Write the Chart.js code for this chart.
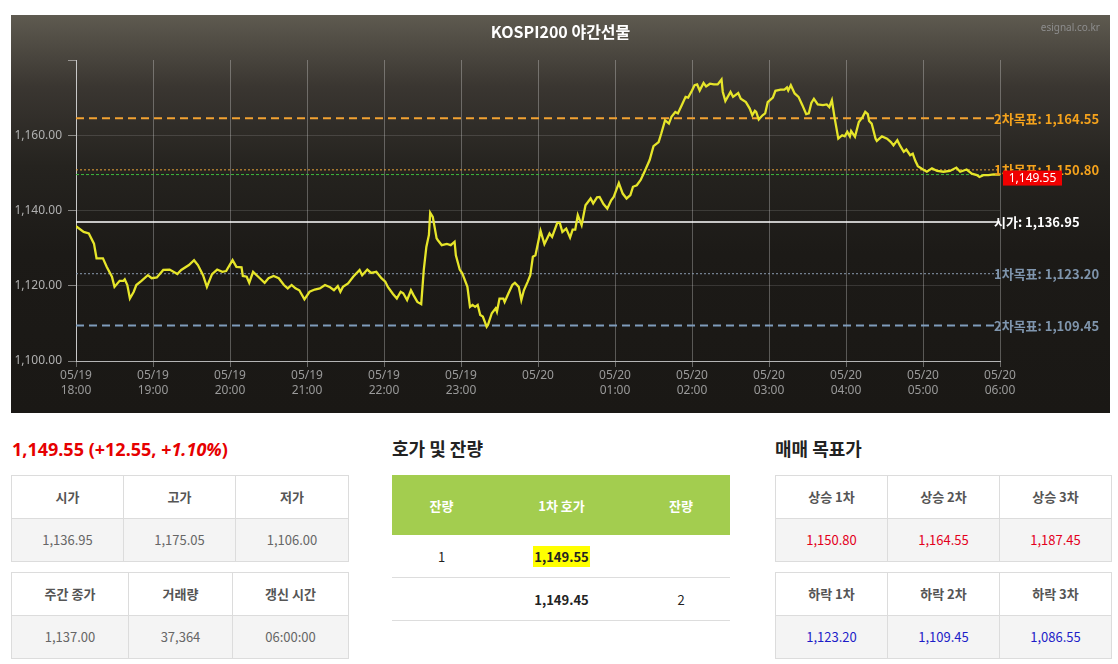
<!DOCTYPE html>
<html>
<head>
<meta charset="utf-8">
<script src="https://cdn.jsdelivr.net/npm/chart.js@4.4.1/dist/chart.umd.min.js"></script>
<style>
html,body{margin:0;padding:0;width:1118px;height:664px;overflow:hidden;background:#fff;font-family:'Noto Sans CJK KR','Noto Sans',sans-serif;}
#box{position:absolute;left:11px;top:15px;width:1099px;height:398px;background:linear-gradient(to bottom,#5e5a50 0%,#3a3631 18%,#25231f 38%,#1c1a17 60%,#1a1815 100%);}
#wrap{position:absolute;left:0;top:0;width:1099px;height:398px;}
#ttl{position:absolute;left:0;top:5px;width:1099px;text-align:center;font-size:16px;font-weight:bold;color:#fff;line-height:22px;}
#src{position:absolute;right:10px;top:5px;font-size:10px;color:#8d8d8d;font-family:'Noto Sans',sans-serif;}
.head{position:absolute;font-size:18px;font-weight:bold;color:#222;line-height:26px;}
#price{position:absolute;left:12px;top:436px;font-size:18px;font-weight:bold;color:#e60000;line-height:26px;font-family:'Noto Sans',sans-serif;}
table{position:absolute;border-collapse:collapse;table-layout:fixed;}
.t td{border:1px solid #dcdcdc;text-align:center;padding:0 0 2px 0;font-size:13px;height:40px;}
.t tr.h td{background:#fff;color:#555;font-weight:bold;}
.t tr.v td{background:#f4f4f4;color:#666;}
.t tr.v.up td{color:#e3001b;}
.t tr.v.dn td{color:#1d1dc8;}
.q td{text-align:center;padding:0;font-size:13px;color:#222;border-bottom:1px solid #ddd;height:42px;}
.q tr.h td{background:#a3cd4f;color:#fff;font-weight:bold;height:60px;border:none;}
.q b{font-weight:bold;}
.hl{background:#ffff00;padding:1px 1px;}
</style>
</head>
<body>
<div id="box">
  <div id="wrap"><canvas id="c"></canvas></div>
  <div id="ttl"></div>
  <div id="src">esignal.co.kr</div>
</div>

<div id="price">1,149.55 (+12.55, <i>+1.10%</i>)</div>
<table class="t" style="left:11px;top:475px;width:337px;">
  <colgroup><col style="width:112px"><col style="width:112px"><col style="width:113px"></colgroup>
  <tr class="h"><td>시가</td><td>고가</td><td>저가</td></tr>
  <tr class="v"><td>1,136.95</td><td>1,175.05</td><td>1,106.00</td></tr>
</table>
<table class="t" style="left:11px;top:572px;width:337px;">
  <colgroup><col style="width:117px"><col style="width:104px"><col style="width:116px"></colgroup>
  <tr class="h"><td>주간 종가</td><td>거래량</td><td>갱신 시간</td></tr>
  <tr class="v"><td>1,137.00</td><td>37,364</td><td>06:00:00</td></tr>
</table>

<div class="head" style="left:392px;top:435px;">호가 및 잔량</div>
<table class="q" style="left:392px;top:475px;width:338px;">
  <colgroup><col style="width:99px"><col style="width:141px"><col style="width:98px"></colgroup>
  <tr class="h"><td>잔량</td><td>1차 호가</td><td>잔량</td></tr>
  <tr><td>1</td><td><b class="hl">1,149.55</b></td><td></td></tr>
  <tr><td></td><td><b>1,149.45</b></td><td>2</td></tr>
</table>

<div class="head" style="left:775px;top:435px;">매매 목표가</div>
<table class="t" style="left:775px;top:475px;width:336px;">
  <colgroup><col style="width:112px"><col style="width:112px"><col style="width:112px"></colgroup>
  <tr class="h"><td>상승 1차</td><td>상승 2차</td><td>상승 3차</td></tr>
  <tr class="v up"><td>1,150.80</td><td>1,164.55</td><td>1,187.45</td></tr>
</table>
<table class="t" style="left:775px;top:572px;width:336px;">
  <colgroup><col style="width:112px"><col style="width:112px"><col style="width:112px"></colgroup>
  <tr class="h"><td>하락 1차</td><td>하락 2차</td><td>하락 3차</td></tr>
  <tr class="v dn"><td>1,123.20</td><td>1,109.45</td><td>1,086.55</td></tr>
</table>

<script>
// ---- data ----
const chartTitle = 'KOSPI200 야간선물';
// minutes after 05/19 18:00
const priceMinutes = [
  0,6,10,14,16,21,24,28,30,34,37,38,40,42,45,47,51,56,59,63,68,73,79,82,88,92,95,99,102,106,110,114,117,
  122,125,129,130,133,135,138,142,147,150,154,158,162,165,168,171,174,178,182,186,190,194,198,201,204,206,208,212,216,221,223,227,230,234,238,241,
  243,247,250,253,255,258,261,263,266,269,271,273,275,276,278,281,282,285,289,292,295,296,299,301,305,307,309,311,313,315,317,320,321,324,327,328,330,333,334,337,340,342,345,347,349,352,354,356,358,
  362,365,369,371,375,377,379,382,385,387,389,391,394,397,401,403,406,408,411,414,417,419,423,426,429,432,434,437,440,443,447,450,454,456,459,462,464,467,469,472,475,477,480,482,
  484,486,489,491,494,497,500,503,504,506,510,512,516,518,522,525,527,529,530,532,535,537,539,543,545,549,552,554,555,557,560,563,566,569,571,573,575,578,582,585,587,589,591,594,597,599,601,603,
  604,607,610,613,615,617,618,620,623,624,628,632,635,637,640,642,645,647,650,652,654,656,660,663,667,671,676,681,686,689,694,698,702,704,707,711,715,720
];
const priceValues = [
  1135.8,1134.3,1133.9,1131.2,1127.3,1127.3,1125.0,1122.4,1119.7,1121.3,1121.3,1121.7,1120.2,1116.6,1118.4,1120.2,1121.3,1122.8,1122.0,1122.2,1124.2,1124.3,1123.1,1124.2,1125.5,1126.8,1125.5,1122.8,1119.7,1123.1,1124.3,1123.7,1123.9,
  1126.8,1125.0,1124.9,1122.6,1122.4,1120.8,1123.7,1122.4,1120.8,1122.0,1122.6,1122.0,1120.2,1119.3,1120.2,1119.3,1118.8,1116.4,1118.4,1119.0,1119.3,1120.2,1119.6,1118.8,1119.9,1118.4,1119.7,1120.6,1122.4,1124.2,1122.8,1124.3,1123.4,1123.7,1122.0,1121.1,
  1119.7,1117.8,1116.6,1118.4,1118.0,1116.2,1118.8,1117.5,1115.7,1115.1,1124.2,1130.3,1133.5,1139.4,1138.3,1132.6,1132.1,1130.8,1131.1,1130.8,1131.7,1128.1,1124.3,1123.3,1119.7,1114.4,1114.9,1114.4,1114.9,1112.2,1111.8,1109.1,1109.6,1112.7,1114.0,1113.1,1116.6,1116.6,1115.7,1118.0,1120.2,1120.8,1119.7,1116.2,1118.8,1121.1,1122.8,1127.7,1128.1,
  1134.6,1131.1,1133.9,1133.0,1136.7,1136.7,1134.3,1135.2,1132.8,1134.9,1134.9,1138.8,1136.1,1141.4,1143.2,1141.9,1143.5,1143.6,1141.7,1140.5,1142.7,1143.6,1147.3,1144.5,1143.2,1144.1,1146.3,1146.7,1148.1,1150.3,1153.4,1157.1,1158.2,1160.4,1164.0,1163.1,1164.9,1166.2,1165.8,1168.0,1170.2,1170.0,1171.9,1173.3,
  1173.5,1171.9,1173.9,1173.0,1173.7,1173.5,1173.5,1174.8,1171.5,1169.1,1171.5,1170.2,1171.2,1169.7,1168.8,1167.1,1165.3,1166.5,1166.2,1164.2,1165.3,1165.8,1168.8,1170.0,1171.8,1172.1,1172.1,1172.7,1171.9,1173.3,1171.1,1170.2,1168.0,1165.6,1165.8,1168.6,1169.7,1168.2,1168.0,1168.2,1167.5,1169.3,1164.9,1159.1,1160.0,1159.7,1160.9,1159.7,
  1161.1,1159.6,1163.5,1164.9,1166.2,1165.6,1163.8,1163.1,1159.1,1158.5,1159.7,1159.1,1158.2,1157.3,1158.7,1157.3,1155.6,1156.2,1154.7,1155.1,1153.2,1151.8,1150.9,1150.3,1151.2,1150.5,1150.3,1150.5,1151.4,1150.3,1150.9,1149.8,1149.4,1148.9,1149.4,1149.4,1149.6,1149.55
];
const tickDates = ['05/19','05/19','05/19','05/19','05/19','05/19','05/20','05/20','05/20','05/20','05/20','05/20','05/20'];
const tickTimes = ['18:00','19:00','20:00','21:00','22:00','23:00','','01:00','02:00','03:00','04:00','05:00','06:00'];
const targetNames  = ['2차목표','1차목표','시가','1차목표','2차목표'];
const targetValues = [1164.55, 1150.80, 1136.95, 1123.20, 1109.45];
const currentPrice = 1149.55;
const yMin = 1100, yMax = 1180, yStep = 20;
const xMin = 0, xMax = 720, xStep = 60;

document.getElementById('ttl').textContent = chartTitle;

// ---- styles (separate from data) ----
const targetStyles = [
  {color:'#f2a232', width:2, dash:[8,5], text:'#f4a21c'},
  {color:'#e9a53a', width:1, dash:[2,2], text:'#f4a21c'},
  {color:'#ffffff', width:1.5, dash:[], text:'#ffffff'},
  {color:'#8a9bb0', width:1, dash:[2,2], text:'#7f95ad'},
  {color:'#7f9cbb', width:2, dash:[8,5], text:'#7f95ad'}
];
const fmt = v => v.toLocaleString('en-US',{minimumFractionDigits:2,maximumFractionDigits:2});

const datasets = [{
  data: priceMinutes.map((m,i)=>({x:m, y:priceValues[i]})),
  borderColor:'#e6e52a', borderWidth:2.3, pointRadius:0, tension:0, fill:false
}];
targetValues.forEach((v,i)=>{
  const s = targetStyles[i];
  datasets.push({data:[{x:xMin,y:v},{x:xMax,y:v}], borderColor:s.color, borderWidth:s.width, borderDash:s.dash, pointRadius:0, fill:false});
});
datasets.push({data:[{x:xMin,y:currentPrice},{x:xMax,y:currentPrice}], borderColor:'#3dbb3d', borderWidth:1, borderDash:[3,2], pointRadius:0, fill:false});

const labelsPlugin = {
  id:'lineLabels',
  afterDatasetsDraw(chart){
    const {ctx, chartArea, scales:{y}} = chart;
    ctx.save();
    ctx.textBaseline = 'middle';
    ctx.textAlign = 'left';
    targetValues.forEach((v,i)=>{
      const s = targetStyles[i];
      ctx.font = "bold 13px 'Noto Sans CJK KR','Noto Sans',sans-serif";
      ctx.fillStyle = s.text;
      ctx.fillText(targetNames[i] + ': ' + fmt(v), chartArea.right - 6, y.getPixelForValue(v) + 0.5);
    });
    const py = y.getPixelForValue(currentPrice) + 3.5;
    ctx.fillStyle = '#f00000';
    ctx.fillRect(chartArea.right + 3, py - 7.5, 59, 15);
    ctx.fillStyle = '#ffffff';
    ctx.font = "12px 'Noto Sans',sans-serif";
    ctx.textAlign = 'center';
    ctx.fillText(fmt(currentPrice), chartArea.right + 32.5, py + 0.5);
    ctx.restore();
  }
};

Chart.defaults.font.family = "'Noto Sans','Noto Sans CJK KR',sans-serif";
new Chart(document.getElementById('c'), {
  type:'line',
  data:{datasets},
  options:{
    responsive:true, maintainAspectRatio:false, animation:false,
    layout:{padding:{left:0,right:110,top:45,bottom:0}},
    plugins:{ legend:{display:false}, tooltip:{enabled:false}, title:{display:false} },
    scales:{
      x:{type:'linear', min:xMin, max:xMax,
        afterFit:s=>{s.height=52;},
        border:{display:true,color:'#b5b5b5',width:1},
        grid:{color:'rgba(255,255,255,0.28)', tickColor:'rgba(255,255,255,0.35)', tickLength:6, drawTicks:true},
        ticks:{stepSize:xStep, autoSkip:false, maxRotation:0, color:'#9a9a9a', padding:1,
          font:{size:12, lineHeight:1.25},
          callback:(v)=>{const i=Math.round((v-xMin)/xStep); return tickTimes[i] ? [tickDates[i], tickTimes[i]] : [tickDates[i]];}}
      },
      y:{min:yMin, max:yMax,
        afterFit:s=>{s.width=65;},
        border:{display:true,color:'#c8c8c8',width:1},
        grid:{color:c=>(c.tick && (c.tick.value===yMax||c.tick.value===yMin))?'rgba(0,0,0,0)':'rgba(255,255,255,0.13)',
              tickColor:'rgba(255,255,255,0.45)', tickLength:8},
        ticks:{stepSize:yStep, color:'#b0b0b0', padding:6, font:{size:12},
          callback:v=> v===yMax ? '' : fmt(v)}
      }
    }
  },
  plugins:[labelsPlugin]
});
</script>
</body>
</html>
